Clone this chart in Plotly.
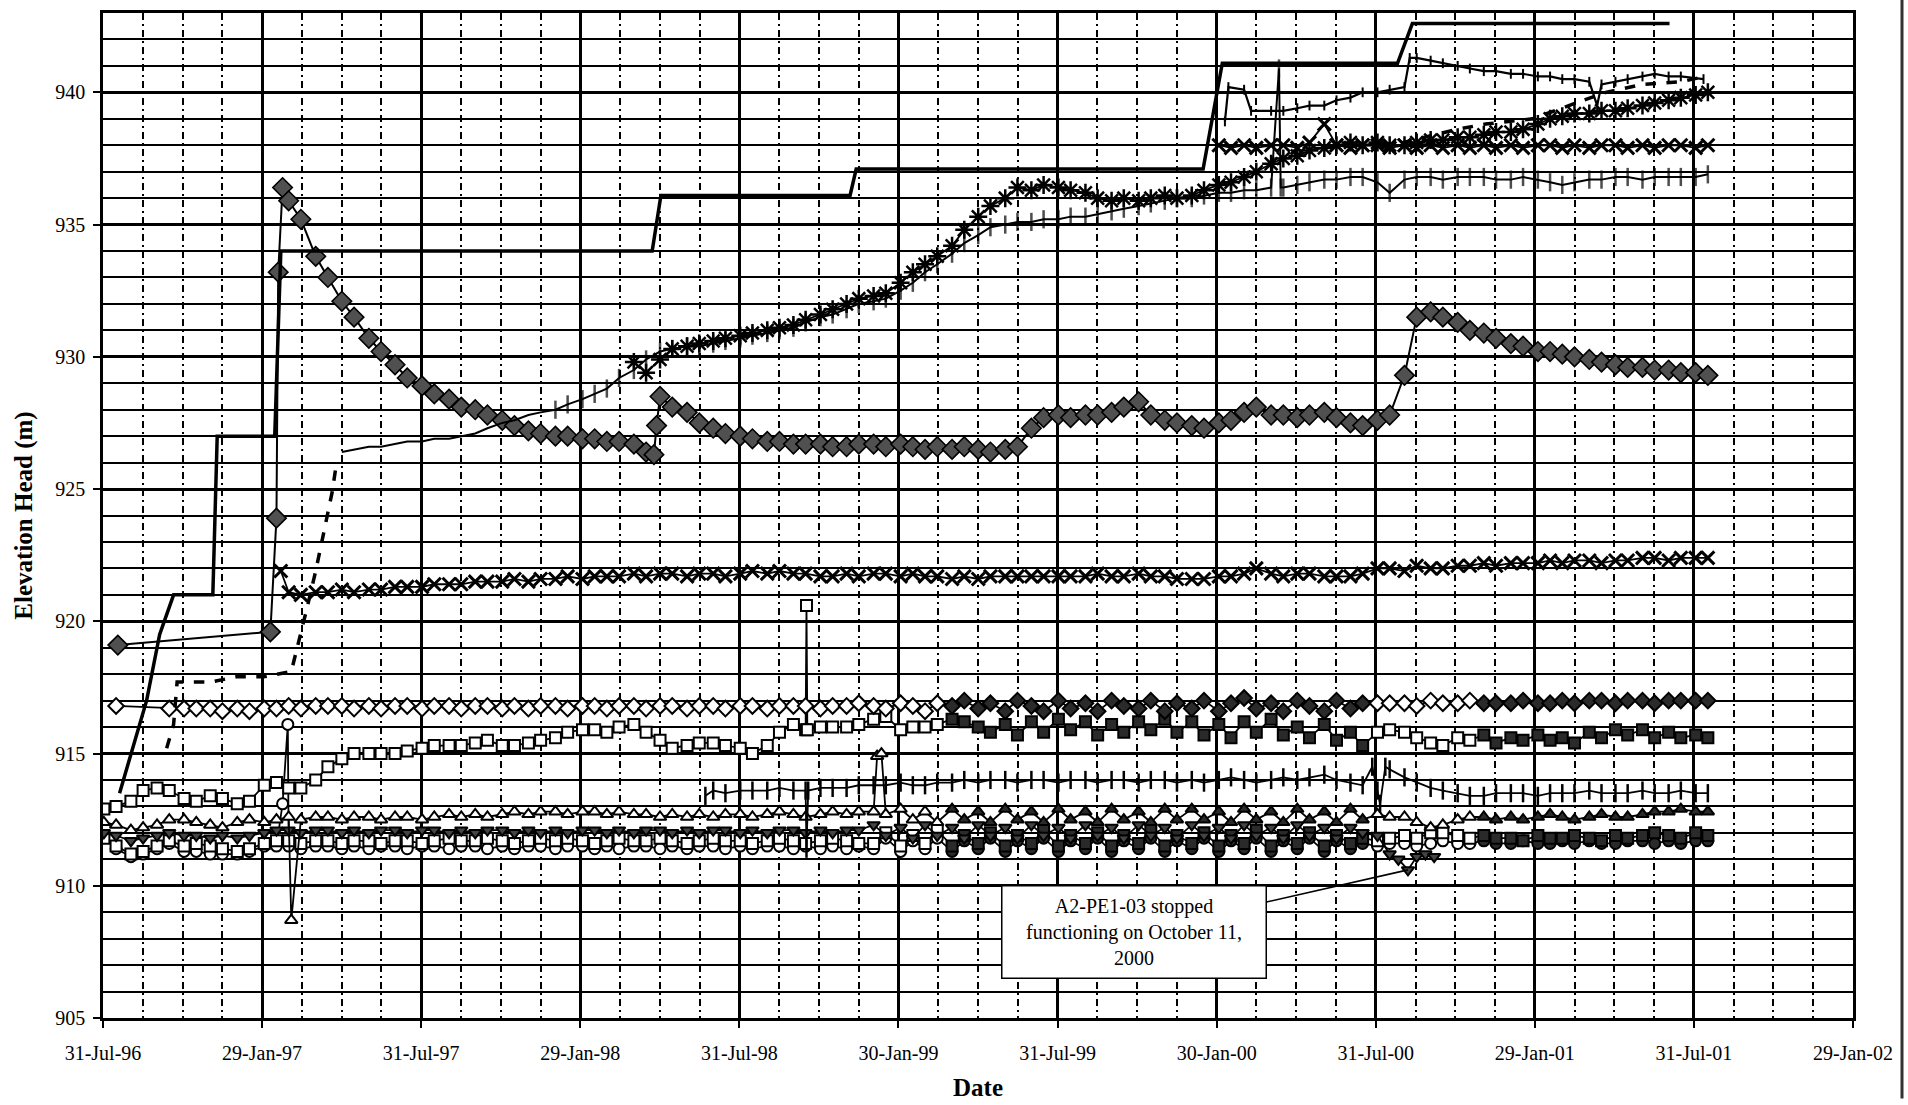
import pandas as pd
import plotly.graph_objects as go

N = None

# ---------------------------------------------------------------- axes text
X_TICK_LABELS = ["31-Jul-96", "29-Jan-97", "31-Jul-97", "29-Jan-98", "31-Jul-98",
                 "30-Jan-99", "31-Jul-99", "30-Jan-00", "31-Jul-00", "29-Jan-01",
                 "31-Jul-01", "29-Jan-02"]
Y_TICKS = [905, 910, 915, 920, 925, 930, 935, 940]
Y_RANGE = [905, 943]

# ------------------------------------------------- stepped elevation series
STEP_DATES = ["1996-08-19", "1996-09-19", "1996-10-04", "1996-10-14", "1996-10-20",
              "1996-12-04", "1996-12-09", "1997-02-13", "1997-02-20", "1998-04-22",
              "1998-05-02", "1998-12-05", "1998-12-12", "2000-01-14", "2000-02-05",
              "2000-08-24", "2000-09-10", "2001-07-02"]
STEP_VALS = [913.5, 917.0, 919.5, 920.5, 921.0,
             921.0, 927.0, 927.0, 934.0, 934.0,
             936.1, 936.1, 937.1, 937.1, 941.1,
             941.1, 942.6, 942.6]

# ------------------------- semi-monthly readings (1st & 15th, Aug 96 - Aug 01)
# one inner list per year: 1996 (Aug-Dec), 1997, 1998, 1999, 2000, 2001 (Jan-Aug)
BIG_DIAMOND = [
    [N] * 10,
    [N, N, N, N, 935.9, 935.2, 933.8, 933.0, 932.1, 931.5, 930.7, 930.2, 929.7, 929.2,
     928.9, 928.6, 928.4, 928.1, 928.0, 927.8, 927.6, 927.4, 927.2, 927.1],
    [927.0, 927.0, 926.9, 926.9, 926.8, 926.8, 926.7, 926.4, 928.5, 928.1, 927.9, 927.5,
     927.3, 927.1, 927.0, 926.9, 926.8, 926.8, 926.7, 926.7, 926.7, 926.6, 926.6, 926.7],
    [926.7, 926.6, 926.7, 926.6, 926.5, 926.6, 926.5, 926.6, 926.5, 926.4, 926.5, 926.6,
     927.3, 927.7, 927.8, 927.7, 927.8, 927.8, 927.9, 928.1, 928.3, 927.8, 927.6, 927.5],
    [927.4, 927.3, 927.5, 927.6, 927.9, 928.1, 927.8, 927.8, 927.7, 927.8, 927.9, 927.7,
     927.5, 927.4, 927.6, 927.8, 929.3, 931.5, 931.7, 931.5, 931.3, 931.0, 930.9, 930.7],
    [930.5, 930.4, 930.2, 930.2, 930.1, 930.0, 929.9, 929.8, 929.7, 929.6, 929.6, 929.5,
     929.5, 929.4, 929.4, 929.3],
]
BIG_DIAMOND_EXTRA_DATES = ["1996-08-17", "1997-02-08", "1997-02-15", "1997-02-17",
                           "1997-02-22", "1998-04-24", "1998-04-27"]
BIG_DIAMOND_EXTRA_VALS = [919.1, 919.6, 923.9, 933.2, 936.4, 926.3, 927.4]

OPEN_DIAMOND = [
    [N, 916.8, N, N, N, 916.7, 916.7, 916.7, 916.7, 916.6],
    [916.7, 916.6, 916.7, 916.7, 916.8, 916.7, 916.8, 916.8, 916.8, 916.7, 916.8, 916.7,
     916.8, 916.8, 916.7, 916.8, 916.8, 916.7, 916.8, 916.8, 916.7, 916.8, 916.7, 916.8],
    [916.8, 916.7, 916.8, 916.8, 916.7, 916.8, 916.8, 916.7, 916.8, 916.8, 916.7, 916.8,
     916.8, 916.7, 916.8, 916.8, 916.7, 916.8, 916.8, 916.8, 916.7, 916.8, 916.8, 916.9],
    [916.8, 916.7, 916.9, 916.8, 916.6, 916.9, 916.8, 917.0, 916.7, 916.9, 916.6, 917.0,
     916.8, 916.6, 917.0, 916.7, 916.9, 916.6, 917.0, 916.8, 916.7, 917.0, 916.6, 916.9],
    [916.7, 917.0, 916.6, 916.9, 917.1, 916.7, 916.9, 916.6, 917.0, 916.8, 916.6, 917.0,
     916.7, 916.9, 916.9, 916.9, 916.9, 916.8, 917.0, 916.9, 916.9, 917.0, 916.9, 916.9],
    [916.9, 917.0, 916.9, 916.9, 917.0, 916.9, 917.0, 917.0, 916.9, 917.0, 917.0, 916.9,
     917.0, 917.0, 917.0, 917.0],
]

CROSS_MID = [
    [N] * 10,
    [N, N, N, N, 921.1, 921.0, 921.1, 921.1, 921.2, 921.1, 921.2, 921.2, 921.3, 921.3,
     921.3, 921.4, 921.4, 921.4, 921.5, 921.5, 921.5, 921.6, 921.5, 921.6],
    [921.6, 921.7, 921.6, 921.7, 921.7, 921.7, 921.8, 921.7, 921.8, 921.8, 921.7, 921.8,
     921.8, 921.7, 921.8, 921.9, 921.8, 921.9, 921.8, 921.8, 921.7, 921.7, 921.8, 921.7],
    [921.8, 921.8, 921.7, 921.8, 921.7, 921.7, 921.6, 921.7, 921.6, 921.7, 921.7, 921.7,
     921.7, 921.7, 921.7, 921.7, 921.7, 921.8, 921.7, 921.7, 921.8, 921.7, 921.7, 921.6],
    [921.6, 921.6, 921.7, 921.7, 921.8, 922.0, 921.8, 921.7, 921.8, 921.8, 921.7, 921.7,
     921.7, 921.8, 922.0, 922.0, 921.9, 922.1, 922.0, 922.0, 922.1, 922.1, 922.2, 922.1],
    [922.2, 922.2, 922.2, 922.3, 922.2, 922.3, 922.3, 922.2, 922.3, 922.3, 922.4, 922.4,
     922.3, 922.4, 922.4, 922.4],
]
CROSS_MID_EXTRA_DATES = ["1997-02-20"]
CROSS_MID_EXTRA_VALS = [921.9]

SQUARE_HIGH = [
    [912.9, 913.0, 913.2, 913.6, 913.7, 913.6, 913.3, 913.2, 913.4, 913.3],
    [913.1, 913.2, 913.8, 913.9, 913.7, 913.7, 914.0, 914.5, 914.8, 915.0, 915.0, 915.0,
     915.0, 915.1, 915.2, 915.3, 915.3, 915.3, 915.4, 915.5, 915.3, 915.3, 915.4, 915.5],
    [915.6, 915.8, 915.9, 915.9, 915.8, 916.0, 916.1, 915.8, 915.5, 915.2, 915.3, 915.4,
     915.4, 915.3, 915.2, 915.0, 915.3, 915.8, 916.1, 915.9, 916.0, 916.0, 916.0, 916.1],
    [916.3, 916.4, 915.9, 916.0, 916.0, 916.1, 916.3, 916.2, 916.0, 915.8, 916.1, 915.7,
     916.2, 915.8, 916.3, 915.9, 916.2, 915.7, 916.1, 915.8, 916.2, 915.9, 916.3, 915.8],
    [916.2, 915.7, 916.1, 915.6, 916.2, 915.8, 916.3, 915.7, 916.0, 915.6, 916.1, 915.5,
     915.8, 915.3, 915.8, 915.9, 915.8, 915.6, 915.4, 915.3, 915.6, 915.5, 915.7, 915.4],
    [915.6, 915.5, 915.7, 915.5, 915.6, 915.4, 915.8, 915.6, 915.9, 915.7, 915.9, 915.6,
     915.8, 915.6, 915.7, 915.6],
]
SQUARE_HIGH_EXTRA_DATES = ["1998-10-16", "1998-10-17"]
SQUARE_HIGH_EXTRA_VALS = [920.6, 915.9]

TRIANGLE = [
    [912.4, 912.3, 912.1, 912.2, 912.3, 912.5, 912.5, 912.4, 912.3, 912.2],
    [912.4, 912.5, 912.4, 912.5, 912.6, 912.5, 912.6, 912.6, 912.5, 912.6, 912.6, 912.5,
     912.6, 912.6, 912.5, 912.6, 912.7, 912.6, 912.7, 912.6, 912.7, 912.8, 912.7, 912.8],
    [912.8, 912.7, 912.8, 912.8, 912.7, 912.8, 912.7, 912.7, 912.6, 912.7, 912.6, 912.7,
     912.6, 912.7, 912.7, 912.6, 912.7, 912.8, 912.7, 912.6, 912.7, 912.8, 912.7, 912.8],
    [912.8, 912.7, 912.9, 912.5, 912.8, 912.4, 912.9, 912.5, 912.8, 912.4, 912.9, 912.5,
     912.8, 912.4, 912.9, 912.5, 912.8, 912.4, 912.9, 912.5, 912.8, 912.4, 912.9, 912.5],
    [912.9, 912.5, 912.8, 912.4, 912.9, 912.5, 912.8, 912.4, 912.9, 912.5, 912.8, 912.4,
     912.9, 912.5, 912.7, 912.6, 912.6, 912.4, 912.2, 912.3, 912.5, 912.6, 912.6, 912.5],
    [912.6, 912.5, 912.6, 912.7, 912.6, 912.5, 912.6, 912.7, 912.6, 912.6, 912.7, 912.8,
     912.8, 912.9, 912.8, 912.8],
]
TRIANGLE_EXTRA_DATES = ["1997-03-04", "1999-01-05", "1999-01-10"]
TRIANGLE_EXTRA_VALS = [908.7, 914.9, 915.0]

SQUARE_LOW = [
    [911.8, 911.5, 911.2, 911.3, 911.5, 911.7, 911.5, 911.6, 911.5, 911.4],
    [911.3, 911.4, 911.6, 911.7, 911.7, 911.6, 911.7, 911.7, 911.6, 911.7, 911.7, 911.6,
     911.7, 911.7, 911.6, 911.7, 911.8, 911.7, 911.7, 911.8, 911.7, 911.6, 911.7, 911.8],
    [911.7, 911.8, 911.7, 911.6, 911.7, 911.8, 911.7, 911.7, 911.8, 911.7, 911.6, 911.7,
     911.8, 911.7, 911.7, 911.6, 911.7, 911.8, 911.7, 911.6, 911.7, 911.8, 911.7, 911.6],
    [911.6, 912.0, 911.5, 911.9, 911.6, 912.1, 911.5, 911.9, 911.6, 912.0, 911.5, 911.9,
     911.6, 912.1, 911.5, 911.9, 911.6, 912.0, 911.5, 911.9, 911.6, 912.1, 911.5, 911.9],
    [911.6, 912.0, 911.5, 911.9, 911.6, 912.1, 911.5, 911.9, 911.6, 912.0, 911.5, 911.9,
     911.6, 911.8, 911.7, 911.8, 911.9, 911.8, 912.0, 912.0, 911.9, 911.8, 911.9, 911.8],
    [911.8, 911.7, 911.9, 911.8, 911.8, 911.9, 911.8, 911.7, 911.9, 911.8, 911.9, 912.0,
     911.9, 911.8, 912.0, 911.9],
]

CIRCLE = [
    [911.9, 911.4, 911.1, 911.2, 911.4, 911.6, 911.3, 911.3, 911.2, 911.2],
    [911.2, 911.3, 911.5, 911.5, 911.5, 911.4, 911.5, 911.5, 911.4, 911.5, 911.4, 911.5,
     911.5, 911.4, 911.5, 911.5, 911.4, 911.5, 911.5, 911.4, 911.5, 911.4, 911.5, 911.5],
    [911.4, 911.5, 911.5, 911.4, 911.5, 911.4, 911.5, 911.5, 911.4, 911.5, 911.4, 911.5,
     911.5, 911.4, 911.5, 911.4, 911.5, 911.5, 911.4, 911.5, 911.4, 911.5, 911.4, 911.5],
    [911.4, 911.8, 911.3, 911.7, 911.4, 911.8, 911.3, 911.7, 911.4, 911.8, 911.3, 911.7,
     911.4, 911.8, 911.3, 911.7, 911.4, 911.8, 911.3, 911.7, 911.4, 911.8, 911.3, 911.7],
    [911.4, 911.8, 911.3, 911.7, 911.4, 911.8, 911.3, 911.7, 911.4, 911.8, 911.3, 911.7,
     911.4, 911.6, 911.5, 911.6, 911.6, 911.5, 911.6, 911.7, 911.6, 911.6, 911.7, 911.6],
    [911.6, 911.7, 911.6, 911.6, 911.7, 911.6, 911.7, 911.6, 911.6, 911.7, 911.7, 911.6,
     911.7, 911.6, 911.7, 911.7],
]
CIRCLE_EXTRA_DATES = ["1997-02-22", "1997-02-28"]
CIRCLE_EXTRA_VALS = [913.1, 916.1]

# A2-PE1-03
PE1_03 = [
    [912.0, 911.9, 911.7, 911.8, 911.9, 912.0, 911.9, 911.9, 911.8, 911.9],
    [911.8, 911.9, 912.0, 912.1, 912.1, 912.0, 912.1, 912.1, 912.0, 912.1, 912.0, 912.1,
     912.1, 912.0, 912.1, 912.1, 912.0, 912.1, 912.0, 912.1, 912.1, 912.0, 912.1, 912.0],
    [912.1, 912.0, 912.1, 912.1, 912.0, 912.1, 912.0, 912.1, 912.1, 912.0, 912.1, 912.0,
     912.1, 912.1, 912.0, 912.1, 912.0, 912.1, 912.1, 912.0, 912.1, 912.0, 912.1, 912.1],
    [912.3, 911.9, 912.2, 911.8, 912.3, 911.9, 912.2, 911.8, 912.3, 911.9, 912.2, 911.8,
     912.3, 911.9, 912.2, 911.8, 912.3, 911.9, 912.2, 911.8, 912.3, 911.9, 912.2, 911.8],
    [912.3, 911.9, 912.2, 911.8, 912.3, 911.9, 912.2, 911.8, 912.3, 911.9, 912.2, 911.8,
     912.2, 912.0, 911.9, N, N, N, N, N, N, N, N, N],
    [N] * 16,
]
PE1_03_EXTRA_DATES = ["2000-08-15", "2000-08-25", "2000-09-05", "2000-09-15",
                      "2000-09-25", "2000-10-05"]
PE1_03_EXTRA_VALS = [911.2, 911.0, 910.6, 911.1, 911.2, 911.1]

PLUS_LOW = [
    [N] * 10,
    [N] * 24,
    [N] * 12 + [913.6, 913.5, 913.6, 913.6, 913.6, 913.7, 913.6, 913.6,
                913.7, 913.7, 913.7, 913.8],
    [913.8, 913.8, 913.9, 913.8, 913.8, 913.9, 913.9, 914.0, 913.9, 914.0, 914.0, 913.9,
     914.0, 914.0, 913.9, 914.0, 914.0, 913.9, 914.0, 914.0, 913.9, 914.0, 914.0, 913.9],
    [914.0, 913.9, 914.0, 914.1, 914.0, 913.9, 914.0, 914.1, 914.0, 914.1, 914.2, 914.0,
     913.9, 913.8, 913.6, 914.4, 914.1, 913.9, 913.7, 913.6, 913.5, 913.4, 913.4, 913.5],
    [913.5, 913.5, 913.4, 913.5, 913.5, 913.5, 913.6, 913.5, 913.5, 913.5, 913.6, 913.5,
     913.5, 913.6, 913.5, 913.5],
]
PLUS_LOW_EXTRA_DATES = ["1998-06-22", "1998-10-16", "1998-10-18",
                        "2000-07-26", "2000-08-04", "2000-08-10"]
PLUS_LOW_EXTRA_VALS = [913.4, 911.4, 913.6, 914.5, 913.1, 914.5]

PLUS_HIGH = [
    [N] * 10,
    [N] * 8 + [926.4, 926.5, 926.6, 926.6, 926.7, 926.8, 926.8, 926.9, 926.9, 927.0,
               927.1, 927.3, 927.5, 927.6, 927.8, 927.9],
    [928.0, 928.2, 928.4, 928.6, 928.8, 929.2, 929.5, 929.9, 930.2, 930.3, 930.4, 930.4,
     930.5, 930.6, 930.7, 930.8, 930.9, 931.0, 931.1, 931.3, 931.5, 931.6, 931.8, 932.0],
    [932.1, 932.2, 932.5, 932.8, 933.2, 933.5, 933.9, 934.3, 934.6, 934.9, 935.0, 935.1,
     935.1, 935.2, 935.2, 935.3, 935.3, 935.4, 935.5, 935.6, 935.7, 935.8, 935.9, 936.0],
    [936.0, 936.1, 936.2, 936.2, 936.3, 936.3, 936.4, 936.4, 936.5, 936.6, 936.7, 936.7,
     936.8, 936.8, 936.6, 936.2, 936.7, 936.8, 936.8, 936.7, 936.8, 936.8, 936.8, 936.7],
    [936.7, 936.8, 936.7, 936.6, 936.5, 936.6, 936.7, 936.7, 936.8, 936.8, 936.7, 936.8,
     936.8, 936.8, 936.8, 936.9],
]
PLUS_HIGH_EXTRA_DATES = ["2000-04-10", "2000-04-12"]
PLUS_HIGH_EXTRA_VALS = [940.9, 936.4]

STAR = [
    [N] * 10,
    [N] * 24,
    [N] * 6 + [929.8, 929.4, 929.9, 930.3, 930.4, 930.5, 930.6, 930.7, 930.8, 930.9,
               931.0, 931.1, 931.2, 931.4, 931.6, 931.8, 932.0, 932.2],
    [932.3, 932.4, 932.8, 933.2, 933.5, 933.8, 934.2, 934.8, 935.3, 935.7, 936.0, 936.4,
     936.3, 936.5, 936.4, 936.3, 936.2, 936.0, 935.9, 936.0, 935.9, 936.0, 936.1, 936.0],
    [936.1, 936.3, 936.5, 936.6, 936.8, 937.0, 937.3, 937.5, 937.6, 937.8, 937.9, 938.0,
     938.1, 938.0, 938.1, 938.0, 938.0, 938.1, 938.2, 938.2, 938.3, 938.3, 938.4, 938.5],
    [938.5, 938.6, 938.8, 939.0, 939.1, 939.2, 939.2, 939.3, 939.3, 939.4, 939.5, 939.6,
     939.7, 939.8, 939.9, 940.0],
]

CROSS_HIGH = [
    [N] * 10,
    [N] * 24,
    [N] * 24,
    [N] * 24,
    [N, N, 938.0, 937.9, 938.0, 937.9, 938.0, 938.0, 937.9, 938.1, 938.8, 938.0,
     937.9, 938.0, 938.0, 937.9, 938.0, 937.9, 938.0, 937.9, 938.0, 937.9, 938.0, 937.9],
    [938.0, 937.9, 938.0, 938.0, 937.9, 938.0, 937.9, 938.0, 938.0, 937.9, 938.0, 937.9,
     938.0, 938.0, 937.9, 938.0],
]

# ----------------------------------------------- irregular logger records
TOP_LINE_DATES = ["2000-02-08", "2000-02-12", "2000-03-01", "2000-03-09", "2000-04-01",
                  "2000-04-15", "2000-05-01", "2000-05-15", "2000-06-01", "2000-06-15",
                  "2000-07-01", "2000-07-15", "2000-08-01", "2000-08-15", "2000-09-01",
                  "2000-09-07", "2000-09-15", "2000-10-01", "2000-10-15", "2000-11-01",
                  "2000-11-15", "2000-12-01", "2000-12-15", "2001-01-01", "2001-01-15",
                  "2001-02-01", "2001-02-15", "2001-03-01", "2001-03-15", "2001-04-01",
                  "2001-04-10", "2001-04-15", "2001-05-01", "2001-05-15", "2001-06-01",
                  "2001-06-15", "2001-07-01", "2001-07-15", "2001-08-10"]
TOP_LINE_VALS = [938.9, 940.2, 940.1, 939.3, 939.3,
                 939.3, 939.4, 939.5, 939.5, 939.7,
                 939.8, 940.0, 940.0, 940.1, 940.2,
                 941.3, 941.3, 941.2, 941.1, 941.0,
                 940.9, 940.8, 940.8, 940.7, 940.7,
                 940.6, 940.6, 940.5, 940.5, 940.4,
                 939.5, 940.3, 940.4, 940.5, 940.6,
                 940.7, 940.6, 940.6, 940.5]

DASHED_EARLY_DATES = ["1996-10-12", "1996-10-20", "1996-10-24", "1996-12-01", "1996-12-31",
                      "1997-01-31", "1997-03-04", "1997-03-15", "1997-03-22", "1997-04-01",
                      "1997-04-08", "1997-04-14", "1997-04-20", "1997-04-24"]
DASHED_EARLY_VALS = [915.2, 916.1, 917.7, 917.7, 917.9,
                     917.9, 918.1, 919.5, 920.5, 921.9,
                     923.0, 923.9, 924.9, 925.8]
DASHED_LATE_DATES = ["2000-08-05", "2000-09-25", "2000-10-31", "2000-12-03", "2001-01-26",
                     "2001-03-17", "2001-04-20", "2001-06-01", "2001-07-15", "2001-08-12"]
DASHED_LATE_VALS = [937.9, 938.3, 938.6, 938.8, 939.0,
                    939.6, 940.0, 940.3, 940.4, 940.6]

# annotation text and placement
NOTE_TEXT = "A2-PE1-03 stopped<br>functioning on October 11,<br>2000"
NOTE_BOX_X = "1999-10-27"
NOTE_BOX_Y = 908.25

# periods of continuous logging, where overlapping symbols print solid
DENSE_PERIODS = [("1999-04-01", "2000-08-01"), ("2000-11-20", "2001-09-01")]

# ------------------------------------------------------------------ helpers
GRID_START = "1996-08-01"


def semimonthly(years, extra_dates=(), extra_vals=()):
    vals = [v for year in years for v in year]
    dates = pd.date_range(GRID_START, periods=len(vals), freq="SMS")
    df = pd.DataFrame({
        "d": list(dates) + list(pd.to_datetime(list(extra_dates))),
        "v": vals + list(extra_vals),
    })
    df = df.dropna().sort_values("d")
    return list(df["d"]), list(df["v"])


def is_dense(t):
    return any(pd.Timestamp(a) <= t < pd.Timestamp(b) for a, b in DENSE_PERIODS)


X_START = pd.Timestamp("1996-07-31")
MAJOR_DAYS = 182.5
major_ticks = [X_START + pd.Timedelta(days=MAJOR_DAYS * k) for k in range(len(X_TICK_LABELS))]
minor_ticks = [X_START + pd.Timedelta(days=MAJOR_DAYS * k + MAJOR_DAYS / 4 * j)
               for k in range(len(X_TICK_LABELS) - 1) for j in (1, 2, 3)]
X_END = major_ticks[-1]

FONT = "Liberation Serif"
fig = go.Figure()


def add(dates, vals, symbol, size, fill="white", mline=2.0, lw=1.8, dash="solid",
        mode="lines+markers", shade_dense=False):
    color = fill
    if shade_dense:
        color = ["#2a2a2a" if is_dense(t) else fill for t in dates]
    fig.add_trace(go.Scatter(
        x=dates, y=vals, mode=mode,
        line=dict(color="black", width=lw, dash=dash),
        marker=dict(symbol=symbol, size=size, color=color,
                    line=dict(color="black", width=mline)),
        hoverinfo="skip",
    ))


# lower band
d, v = semimonthly(CIRCLE, CIRCLE_EXTRA_DATES, CIRCLE_EXTRA_VALS)
add(d, v, "circle", 11, shade_dense=True)
d, v = semimonthly(SQUARE_LOW)
add(d, v, "square", 11, shade_dense=True)
d, v = semimonthly(PE1_03, PE1_03_EXTRA_DATES, PE1_03_EXTRA_VALS)
add(d, v, "triangle-down", 11, fill="#444444")
d, v = semimonthly(TRIANGLE, TRIANGLE_EXTRA_DATES, TRIANGLE_EXTRA_VALS)
add(d, v, "triangle-up", 11, shade_dense=True)
d, v = semimonthly(PLUS_LOW, PLUS_LOW_EXTRA_DATES, PLUS_LOW_EXTRA_VALS)
add(d, v, "line-ns-open", 13, fill="black", mline=2.5)
d, v = semimonthly(SQUARE_HIGH, SQUARE_HIGH_EXTRA_DATES, SQUARE_HIGH_EXTRA_VALS)
add(d, v, "square", 11, shade_dense=True)
d, v = semimonthly(OPEN_DIAMOND)
add(d, v, "diamond", 12, shade_dense=True)

# middle / upper series
d, v = semimonthly(CROSS_MID, CROSS_MID_EXTRA_DATES, CROSS_MID_EXTRA_VALS)
add(d, v, "x-thin-open", 13, fill="black", mline=3)
d, v = semimonthly(BIG_DIAMOND, BIG_DIAMOND_EXTRA_DATES, BIG_DIAMOND_EXTRA_VALS)
add(d, v, "diamond", 15, fill="#505050", mline=1.6, lw=2)

d, v = semimonthly(PLUS_HIGH, PLUS_HIGH_EXTRA_DATES, PLUS_HIGH_EXTRA_VALS)
fig.add_trace(go.Scatter(
    x=d, y=v, mode="lines+markers",
    line=dict(color="black", width=2),
    marker=dict(symbol="line-ns-open", color="black", line=dict(color="black", width=2.5),
                size=[0 if t < pd.Timestamp("1998-01-01") else 13 for t in d]),
    hoverinfo="skip",
))
d, v = semimonthly(STAR)
add(d, v, "asterisk-open", 15, fill="black", mline=2.5)
d, v = semimonthly(CROSS_HIGH)
add(d, v, "x-thin-open", 13, fill="black", mline=3)

add(pd.to_datetime(TOP_LINE_DATES), TOP_LINE_VALS, "line-ns-open", 7, fill="black",
    mline=2, lw=2.2)
add(pd.to_datetime(DASHED_EARLY_DATES), DASHED_EARLY_VALS, "circle", 1, lw=3.5,
    dash="dash", mode="lines")
add(pd.to_datetime(DASHED_LATE_DATES), DASHED_LATE_VALS, "circle", 1, lw=3.5,
    dash="dash", mode="lines")
add(pd.to_datetime(STEP_DATES), STEP_VALS, "circle", 1, lw=3.5, mode="lines")

# note pointing at the last A2-PE1-03 low reading
arrow_idx = PE1_03_EXTRA_VALS.index(min(PE1_03_EXTRA_VALS))
fig.add_annotation(
    x=pd.Timestamp(PE1_03_EXTRA_DATES[arrow_idx]), y=PE1_03_EXTRA_VALS[arrow_idx],
    ax=pd.Timestamp(NOTE_BOX_X), ay=NOTE_BOX_Y, axref="x", ayref="y",
    text=NOTE_TEXT, showarrow=True, arrowhead=0, arrowwidth=1.6, arrowcolor="black",
    bordercolor="black", borderwidth=1.5, borderpad=7, bgcolor="white",
    width=249, height=77, align="center",
    font=dict(family=FONT, size=20, color="black"),
)

# scanner edge on the right of the sheet
fig.add_shape(type="line", xref="paper", yref="paper", x0=1.028, x1=1.028,
              y0=-0.08, y1=1.013, line=dict(color="#333333", width=3))

fig.update_layout(
    template="none",
    width=1908, height=1105,
    margin=dict(l=103, r=55, t=13, b=87),
    paper_bgcolor="white", plot_bgcolor="white",
    showlegend=False,
    font=dict(family=FONT, color="black"),
    xaxis=dict(
        type="date", range=[X_START, X_END],
        tickmode="array", tickvals=major_ticks, ticktext=X_TICK_LABELS,
        ticks="outside", ticklen=7, tickwidth=2, tickcolor="black",
        tickfont=dict(family=FONT, size=20, color="black"), ticklabelstandoff=8,
        showgrid=True, gridcolor="black", gridwidth=2.5,
        showline=True, linecolor="black", linewidth=2.5, mirror=True,
        zeroline=False, automargin=False,
        minor=dict(tickmode="array", tickvals=minor_ticks, showgrid=True,
                   gridcolor="black", gridwidth=1.5, griddash="7px,4px,2px,4px",
                   ticks=""),
        title=dict(text="<b>Date</b>", font=dict(family=FONT, size=25, color="black"),
                   standoff=16),
    ),
    yaxis=dict(
        range=Y_RANGE, tickmode="array", tickvals=Y_TICKS,
        ticks="outside", ticklen=7, tickwidth=2, tickcolor="black",
        tickfont=dict(family=FONT, size=20, color="black"), ticklabelstandoff=4,
        showgrid=True, gridcolor="black", gridwidth=2.5,
        showline=True, linecolor="black", linewidth=2.5, mirror=True,
        zeroline=False, automargin=False,
        minor=dict(dtick=1, tick0=905, showgrid=True, gridcolor="black",
                   gridwidth=1.7, ticks=""),
        title=dict(text="<b>Elevation Head (m)</b>",
                   font=dict(family=FONT, size=25, color="black"), standoff=16),
    ),
)

fig.write_html("out.html")
